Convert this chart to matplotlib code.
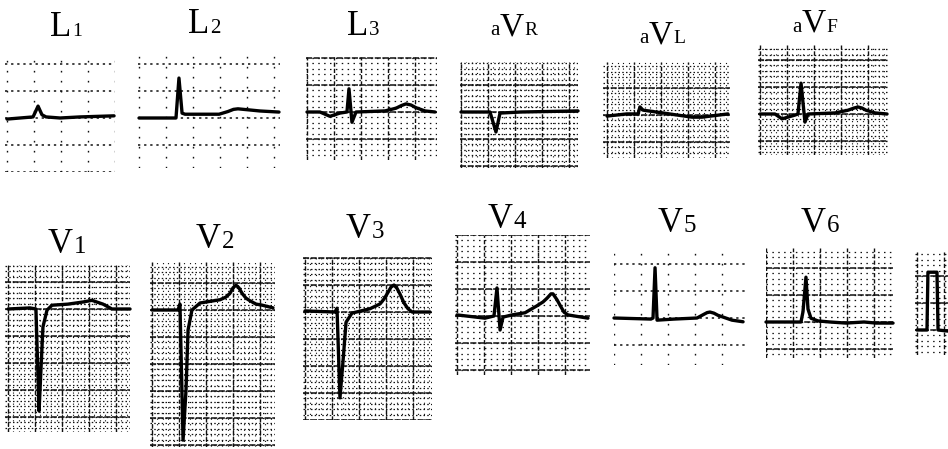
import matplotlib
matplotlib.use("Agg")
import matplotlib.pyplot as plt
import numpy as np

W, H = 948, 449
PX_PER_MS = 5.4 / 40     # 25 mm/s, 5.4 px per mm
PX_PER_MV = 54           # 10 mm/mV

# ---- traces: time (ms) and amplitude (mV) ----
l1_ms = [0, 96, 193, 230, 259, 289, 393, 541, 793]
l1_mv = [-0.02, 0, 0.02, 0.22, 0.06, 0.02, 0, 0.02, 0.04]

l2_ms = [0, 274, 296, 319, 341, 593, 659, 700, 733, 815, 896, 1037]
l2_mv = [0, 0, 0.74, 0.09, 0.07, 0.07, 0.12, 0.16, 0.17, 0.15, 0.13, 0.11]

l3_ms = [0, 96, 170, 244, 296, 311, 333, 363, 578, 659, 700, 733, 770, 807, 874, 948]
l3_mv = [0, 0, -0.08, -0.02, 0, 0.43, -0.19, 0, 0.02, 0.07, 0.12, 0.15, 0.13, 0.08, 0.02, 0]

avr_ms = [0, 215, 259, 289, 444, 867]
avr_mv = [0, 0, -0.37, -0.02, 0, 0.02]

avl_ms = [0, 148, 230, 244, 267, 407, 630, 704, 896]
avl_mv = [-0.02, 0.02, 0.02, 0.15, 0.09, 0.04, -0.04, -0.04, 0.02]

avf_ms = [0, 111, 163, 259, 281, 304, 333, 356, 556, 652, 696, 726, 756, 785, 852, 941]
avf_mv = [0, 0, -0.09, -0.02, 0, 0.57, -0.15, 0, 0.02, 0.07, 0.11, 0.13, 0.11, 0.07, 0.02, 0]

v1_ms = [0, 163, 207, 230, 244, 259, 289, 326, 444, 556, 622, 704, 770, 904]
v1_mv = [0, 0.02, 0, -1.89, -1.13, -0.33, -0.02, 0.07, 0.09, 0.13, 0.16, 0.09, 0, 0]

v2_ms = [0, 193, 207, 230, 252, 267, 296, 356, 504, 548, 578, 600, 622,
         644, 667, 696, 726, 770, 815, 896]
v2_mv = [0, 0, 0.11, -2.41, -1.48, -0.37, 0, 0.13, 0.19, 0.24, 0.31, 0.41, 0.46,
         0.41, 0.31, 0.22, 0.17, 0.11, 0.09, 0.04]

v3_ms = [0, 222, 237, 259, 281, 304, 348, 481, 556, 585, 607, 637, 659,
         681, 704, 733, 763, 793, 926]
v3_mv = [0.02, 0, 0.07, -1.59, -0.93, -0.19, -0.02, 0.06, 0.15, 0.24, 0.33, 0.46, 0.5,
         0.44, 0.33, 0.17, 0.06, 0, 0]

v4_ms = [0, 207, 274, 296, 319, 341, 407, 504, 593, 637, 667, 696, 711,
         741, 763, 793, 822, 970]
v4_mv = [0.02, -0.04, 0, 0.52, -0.26, -0.02, 0.02, 0.06, 0.19, 0.26, 0.33, 0.41, 0.41,
         0.3, 0.2, 0.07, 0.02, -0.04]

v5_ms = [0, 274, 289, 304, 319, 444, 615, 667, 690, 711, 740, 770, 874, 956]
v5_mv = [0, -0.02, 0, 0.93, -0.04, -0.02, 0, 0.07, 0.1, 0.11, 0.09, 0.05, -0.04, -0.07]

v6_ms = [0, 259, 274, 296, 311, 333, 385, 474, 593, 726, 815, 941]
v6_mv = [0, 0, 0.19, 0.83, 0.24, 0.07, 0.02, 0, -0.02, 0, -0.02, -0.02]

cal_ms = [0, 74, 81, 148, 156, 230]
cal_mv = [0, 0, 1.07, 1.07, 0, -0.02]

traces = {
    "L1": (l1_ms, l1_mv), "L2": (l2_ms, l2_mv), "L3": (l3_ms, l3_mv),
    "aVR": (avr_ms, avr_mv), "aVL": (avl_ms, avl_mv), "aVF": (avf_ms, avf_mv),
    "V1": (v1_ms, v1_mv), "V2": (v2_ms, v2_mv), "V3": (v3_ms, v3_mv),
    "V4": (v4_ms, v4_mv), "V5": (v5_ms, v5_mv), "V6": (v6_ms, v6_mv),
    "cal": (cal_ms, cal_mv),
}

# ---- layout (pixels): paper box, trace origin, grid density ----
boxes = {
    "L1": (5, 55, 115, 172),   "L2": (138, 48, 280, 168),
    "L3": (306, 57, 437, 160), "aVR": (460, 62, 578, 168),
    "aVL": (603, 62, 730, 158), "aVF": (758, 45, 888, 155),
    "V1": (5, 265, 130, 432),  "V2": (150, 262, 275, 447),
    "V3": (303, 257, 432, 420), "V4": (455, 235, 590, 375),
    "V5": (614, 245, 745, 365), "V6": (766, 248, 893, 358),
    "cal": (915, 252, 948, 355),
}
origins = {
    "L1": (7, 118), "L2": (139, 118), "L3": (307, 112), "aVR": (461, 112),
    "aVL": (607, 115), "aVF": (760, 114), "V1": (8, 309), "V2": (152, 310),
    "V3": (305, 312), "V4": (457, 316), "V5": (614, 318), "V6": (766, 322),
    "cal": (917, 330),
}
density = {"L1": 0, "L2": 0, "L3": 1, "aVR": 2, "aVL": 2, "aVF": 2,
           "V1": 2, "V2": 2, "V3": 2, "V4": 1, "V5": 0, "V6": 1, "cal": 1}

# titles: left px, baseline px, pieces (text, size pt) set one after another
titles = {
    "L1": (50, 36, [("L", 25), ("1", 14)]),
    "L2": (188, 33, [("L", 25), ("2", 15)]),
    "L3": (347, 35, [("L", 25), ("3", 15)]),
    "aVR": (490, 35, [("a", 15), ("V", 24), ("R", 14)]),
    "aVL": (639, 43, [("a", 15), ("V", 24), ("L", 14)]),
    "aVF": (792, 32, [("a", 15), ("V", 24), ("F", 14)]),
    "V1": (48, 253, [("V", 25), ("1", 18)]),
    "V2": (196, 248, [("V", 25), ("2", 18)]),
    "V3": (346, 238, [("V", 25), ("3", 18)]),
    "V4": (488, 228, [("V", 25), ("4", 18)]),
    "V5": (658, 232, [("V", 25), ("5", 18)]),
    "V6": (801, 232, [("V", 25), ("6", 18)]),
}


def grid_lines(lo, hi, step):
    return np.arange(np.ceil(lo / step) * step, hi + 1e-9, step)


def draw_grid(ax, xlim, ylim, level):
    ink = "#111111"
    if level >= 1:
        hs = (0, (1.2, 1.8)) if level == 2 else (0, (1.2, 3.5))
        for y in grid_lines(ylim[0], ylim[1], 0.1):
            ax.axhline(y, color=ink, lw=0.9, ls=hs, zorder=1)
    if level == 2:
        for x in grid_lines(xlim[0], xlim[1], 40):
            ax.axvline(x, color=ink, lw=0.8, ls=(0, (1, 4)), zorder=1)
    hmaj = (0, (4, 1)) if level else (0, (1.5, 2.5))
    vmaj = (0, (3, 1.5)) if level else (0, (1.2, 6))
    for y in grid_lines(ylim[0], ylim[1], 0.5):
        ax.axhline(y, color=ink, lw=1.1, ls=hmaj, zorder=1)
    for x in grid_lines(xlim[0], xlim[1], 200):
        ax.axvline(x, color=ink, lw=1.0, ls=vmaj, zorder=1)


fig = plt.figure(figsize=(W / 100, H / 100), dpi=100)
fig.patch.set_facecolor("white")

for lead, (ms, mv) in traces.items():
    left, top, right, bottom = boxes[lead]
    x0, base = origins[lead]
    ax = fig.add_axes([left / W, 1 - bottom / H, (right - left) / W, (bottom - top) / H])
    xlim = ((left - x0) / PX_PER_MS, (right - x0) / PX_PER_MS)
    ylim = ((base - bottom) / PX_PER_MV, (base - top) / PX_PER_MV)
    ax.set_xlim(*xlim)
    ax.set_ylim(*ylim)
    ax.axis("off")
    draw_grid(ax, xlim, ylim, density[lead])
    ax.plot(ms, mv, color="black", lw=2.4, solid_joinstyle="round",
            solid_capstyle="round", zorder=3, clip_on=False)

tax = fig.add_axes([0, 0, 1, 1], zorder=5)
tax.set_xlim(0, W)
tax.set_ylim(H, 0)
tax.axis("off")
renderer = fig.canvas.get_renderer()
for lead, (xl, yb, pieces) in titles.items():
    x = xl
    for txt, size in pieces:
        t = tax.text(x, yb, txt, fontsize=size, family="Liberation Serif",
                     ha="left", va="baseline", color="black")
        x = t.get_window_extent(renderer).x1 + 0.5

fig.savefig("out.png", dpi=100)
